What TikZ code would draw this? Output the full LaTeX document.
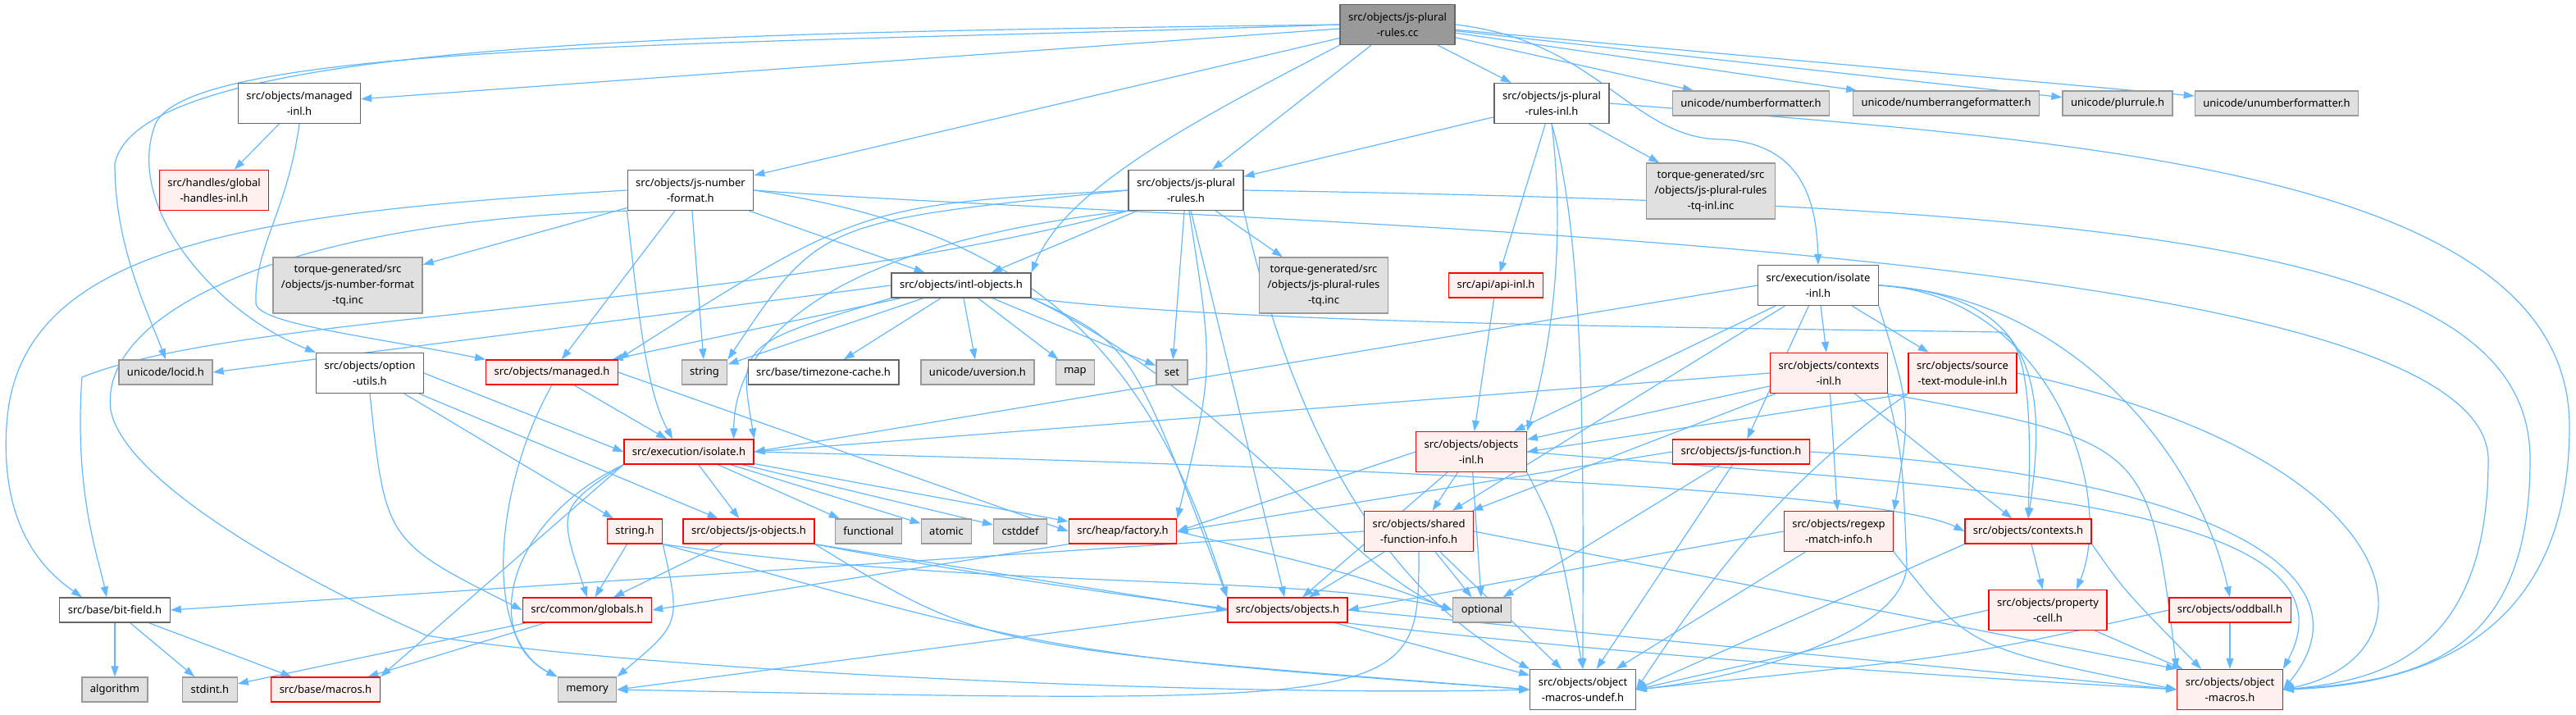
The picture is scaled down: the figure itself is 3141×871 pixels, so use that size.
\documentclass[tikz,border=0pt]{standalone}
\usepackage{fontspec}
\setmainfont{Noto Sans}
\usetikzlibrary{arrows.meta,backgrounds}
\definecolor{edgeblue}{HTML}{63B8FF}
\definecolor{hdredge}{HTML}{666666}
\definecolor{sysfill}{HTML}{E0E0E0}
\definecolor{sysedge}{HTML}{999999}
\definecolor{redfill}{HTML}{FFF0F0}
\definecolor{rededge}{HTML}{FF0000}
\definecolor{rootfill}{HTML}{999999}
\tikzset{
  filebox/.style={draw, line width=1.3pt, inner xsep=10pt, inner ysep=0pt,
    minimum height=30pt, align=center, font=\fontsize{13}{19}\selectfont},
  lines2/.style={minimum height=49pt},
  lines3/.style={minimum height=68pt},
  hdr/.style={filebox, fill=white, draw=hdredge},
  sysh/.style={filebox, fill=sysfill, draw=sysedge},
  redh/.style={filebox, fill=redfill, draw=rededge},
  rooth/.style={filebox, fill=rootfill, draw=hdredge},
  dep/.style={draw=edgeblue, line width=1.2pt, -{Triangle[length=13pt,width=9pt]}},
}
\begin{document}
\begin{tikzpicture}[x=1pt,y=-1pt]
\useasboundingbox (0,0) rectangle (3141,871);
% files
\node[rooth, lines2] (R) at (1704,30) {src/objects/js-plural\\-rules.cc};
\node[hdr, lines2] (managedinl) at (365,126) {src/objects/managed\\-inl.h};
\node[redh, lines2] (globalh) at (261,232) {src/handles/global\\-handles-inl.h};
\node[hdr, lines2] (jsnf) at (842,232) {src/objects/js-number\\-format.h};
\node[hdr, lines2] (jspri) at (1892,126) {src/objects/js-plural\\-rules-inl.h};
\node[hdr, lines2] (jspr) at (1446,232) {src/objects/js-plural\\-rules.h};
\node[sysh] (unf) at (2135,126) {unicode/numberformatter.h};
\node[sysh] (unrf) at (2373,126) {unicode/numberrangeformatter.h};
\node[sysh] (uplur) at (2582,126) {unicode/plurrule.h};
\node[sysh] (uunf) at (2776,126) {unicode/unumberformatter.h};
\node[sysh, lines3] (tqnf) at (424,348) {torque-generated/src\\/objects/js-number-format\\-tq.inc};
\node[sysh, lines3] (tqpri) at (2086,233) {torque-generated/src\\/objects/js-plural-rules\\-tq-inl.inc};
\node[sysh, lines3] (tqpr) at (1614,348) {torque-generated/src\\/objects/js-plural-rules\\-tq.inc};
\node[hdr] (intl) at (1172,348) {src/objects/intl-objects.h};
\node[redh] (apiinl) at (1824,348) {src/api/api-inl.h};
\node[hdr, lines2] (isoinl) at (2217,348) {src/execution/isolate\\-inl.h};
\node[sysh] (locid) at (202,454) {unicode/locid.h};
\node[hdr, lines2] (optutils) at (451,455) {src/objects/option\\-utils.h};
\node[redh] (managed) at (673,454) {src/objects/managed.h};
\node[sysh] (string) at (859,454) {string};
\node[hdr] (tzc) at (1004,454) {src/base/timezone-cache.h};
\node[sysh] (uver) at (1192,454) {unicode/uversion.h};
\node[sysh] (map) at (1311,454) {map};
\node[sysh] (set) at (1429,454) {set};
\node[redh, lines2] (ctxinl) at (2230,455) {src/objects/contexts\\-inl.h};
\node[redh, lines2] (stmi) at (2393,455) {src/objects/source\\-text-module-inl.h};
\node[redh] (isolate) at (840,551) {src/execution/isolate.h};
\node[redh, lines2] (objinl) at (1794,551) {src/objects/objects\\-inl.h};
\node[redh] (jsfn) at (2123,551) {src/objects/js-function.h};
\node[redh] (stringh) at (774,648) {string.h};
\node[redh] (jsobj) at (913,648) {src/objects/js-objects.h};
\node[sysh] (functional) at (1059,648) {functional};
\node[sysh] (atomic) at (1154,648) {atomic};
\node[sysh] (cstddef) at (1244,648) {cstddef};
\node[redh] (factory) at (1369,648) {src/heap/factory.h};
\node[redh, lines2] (sfi) at (1730,648) {src/objects/shared\\-function-info.h};
\node[redh, lines2] (regexp) at (2242,648) {src/objects/regexp\\-match-info.h};
\node[redh] (contexts) at (2473,648) {src/objects/contexts.h};
\node[hdr] (bitfield) at (140,744) {src/base/bit-field.h};
\node[redh] (globals) at (716,744) {src/common/globals.h};
\node[redh] (objects) at (1570,744) {src/objects/objects.h};
\node[sysh] (optional) at (1807,744) {optional};
\node[redh, lines2] (propcell) at (2497,744) {src/objects/property\\-cell.h};
\node[redh] (oddball) at (2719,744) {src/objects/oddball.h};
\node[sysh] (algorithm) at (140,841) {algorithm};
\node[sysh] (stdint) at (256,841) {stdint.h};
\node[redh] (macros) at (397,841) {src/base/macros.h};
\node[sysh] (memory) at (716,841) {memory};
\node[hdr, lines2] (oundef) at (1930,841) {src/objects/object\\-macros-undef.h};
\node[redh, lines2] (omacros) at (2719,841) {src/objects/object\\-macros.h};
% bends
\coordinate (wLoc) at (140,200);
\coordinate (wOpt) at (190,150);
\coordinate (wIso) at (2100,170);
\coordinate (wMg) at (312,370);
\coordinate (wBf) at (8,520);
\coordinate (wBf2) at (100,460);
\coordinate (wUd) at (135,500);
\coordinate (wUd2) at (520,775);
\coordinate (wCx) at (2440,405);
\coordinate (wCi) at (2325,690);
\coordinate (wNF) at (3034,560);
\coordinate (wPR) at (3085,560);
\coordinate (wPI) at (3133,520);
\begin{scope}[on background layer]
% root
\draw[dep] (R) -- (managedinl);
\draw[dep] (R) -- (jsnf);
\draw[dep] (R) -- (jspri);
\draw[dep] (R) -- (jspr);
\draw[dep] (R.south west) .. controls (1450,150) and (1300,230) .. (intl.north east);
\draw[dep] (R.west) .. controls (900,40) and (170,45) .. (wLoc) .. controls (140,300) and (180,380) .. (locid.north);
\draw[dep] (R.west) .. controls (900,55) and (240,50) .. (wOpt) .. controls (150,250) and (260,380) .. (optutils.north west);
\draw[dep] (R.east) .. controls (1950,50) and (1990,170) .. (wIso) .. controls (2200,175) and (2215,250) .. (isoinl.north);
\draw[dep] (R) -- (unf);
\draw[dep] (R) -- (unrf);
\draw[dep] (R) -- (uplur);
\draw[dep] (R) -- (uunf);
% managed-inl
\draw[dep] (managedinl) -- (globalh);
\draw[dep] (managedinl.south) .. controls (350,260) and (310,300) .. (wMg) .. controls (315,395) and (450,410) .. (managed.north west);
% js-number-format
\draw[dep] (jsnf) -- (tqnf);
\draw[dep] (jsnf) -- (intl);
\draw[dep] (jsnf) -- (string);
\draw[dep] (jsnf) -- (managed);
\draw[dep] (jsnf.west) .. controls (300,260) and (20,300) .. (wBf) .. controls (0,650) and (60,700) .. ([xshift=-40pt]bitfield.north);
\draw[dep] (jsnf.south west) .. controls (780,400) and (790,480) .. ([xshift=-20pt]isolate.north);
\draw[dep] (jsnf.east) .. controls (1250,280) and (1400,420) .. (objects.north west);
\draw[dep] (jsnf.south west) .. controls (350,270) and (120,380) .. (wUd) .. controls (150,580) and (330,690) .. (wUd2) .. controls (800,820) and (1500,850) .. (oundef.west);
\draw[dep] (jsnf.east) .. controls (1500,275) and (3030,290) .. (wNF) .. controls (3034,800) and (2900,830) .. (omacros.east);
% js-plural-rules
\draw[dep] (jspr) -- (intl);
\draw[dep] (jspr) -- (tqpr);
\draw[dep] (jspr) -- (set);
\draw[dep] (jspr) -- (objects);
\draw[dep] (jspr.west) .. controls (1000,270) .. (string.north east);
\draw[dep] (jspr.west) .. controls (1050,250) .. (managed.north east);
\draw[dep] (jspr.south west) .. controls (1000,300) and (895,420) .. ([xshift=-25pt]isolate.north east);
\draw[dep] (jspr.south west) .. controls (900,380) and (300,380) .. (wBf2) .. controls (90,600) and (120,680) .. ([xshift=-10pt]bitfield.north);
\draw[dep] (jspr) .. controls (1480,450) .. (factory.north east);
\draw[dep] (jspr.south east) .. controls (1560,450) and (1650,700) .. (oundef.north west);
\draw[dep] (jspr.east) .. controls (2600,250) and (3085,300) .. (wPR) .. controls (3085,800) and (2950,830) .. (omacros.east);
% js-plural-rules-inl
\draw[dep] (jspri) -- (jspr);
\draw[dep] (jspri) -- (tqpri);
\draw[dep] (jspri) -- (apiinl);
\draw[dep] (jspri.south) .. controls (1910,300) and (1890,430) .. (objinl.north east);
\draw[dep] (jspri.south) .. controls (1935,300) and (1930,600) .. (oundef.north);
\draw[dep] (jspri.east) .. controls (2500,170) and (3133,200) .. (wPI) .. controls (3133,780) and (2950,835) .. (omacros.east);
\draw[dep] (apiinl) -- (objinl);
% intl-objects
\draw[dep] (intl) -- (string);
\draw[dep] (intl) -- (tzc);
\draw[dep] (intl) -- (uver);
\draw[dep] (intl) -- (map);
\draw[dep] (intl) -- (set);
\draw[dep] (intl) -- (managed);
\draw[dep] (intl.west) -- (locid.east);
\draw[dep] (intl.south west) .. controls (900,420) .. (isolate.north east);
\draw[dep] (intl.south east) .. controls (1380,420) .. (objects.north west);
\draw[dep] (intl.south east) .. controls (1500,480) and (1650,700) .. (optional.west);
\draw[dep] (intl.south east) .. controls (1500,395) and (2100,400) .. (wCx) .. controls (2480,420) and (2475,550) .. (contexts.north);
% isolate-inl
\draw[dep] (isoinl.west) -- (isolate.east);
\draw[dep] (isoinl) -- (objinl);
\draw[dep] (isoinl) -- (sfi);
\draw[dep] (isoinl) -- (jsfn);
\draw[dep] (isoinl) -- (ctxinl);
\draw[dep] (isoinl) -- (stmi);
\draw[dep] (isoinl.south east) .. controls (2330,500) .. (regexp.north east);
\draw[dep] (isoinl.east) .. controls (2470,360) and (2500,450) .. (contexts.north);
\draw[dep] (isoinl.east) .. controls (2500,360) and (2580,600) .. ([xshift=35pt]propcell.north);
\draw[dep] (isoinl.east) .. controls (2520,360) and (2680,550) .. (oddball.north);
% contexts-inl, source-text-module-inl
\draw[dep] (ctxinl.west) -- (isolate.east);
\draw[dep] (ctxinl) -- (objinl);
\draw[dep] (ctxinl) -- (sfi);
\draw[dep] (ctxinl) -- (regexp);
\draw[dep] (ctxinl) -- (contexts);
\draw[dep] (ctxinl.south east) .. controls (2320,560) .. (wCi) .. controls (2320,780) and (2100,830) .. (oundef.east);
\draw[dep] (ctxinl.south east) .. controls (2620,540) .. (omacros.north west);
\draw[dep] (stmi.south west) -- (objinl.east);
\draw[dep] (stmi.south west) .. controls (2150,600) and (2050,760) .. (oundef.east);
\draw[dep] (stmi.east) .. controls (2950,560) and (2980,800) .. (omacros.east);
% isolate
\draw[dep] (isolate.south west) .. controls (680,620) .. (globals.north);
\draw[dep] (isolate.south west) .. controls (610,640) and (590,780) .. (memory.north west);
\draw[dep] (isolate.south west) -- (macros.north east);
\draw[dep] (isolate) -- (jsobj);
\draw[dep] (isolate) -- (functional);
\draw[dep] (isolate) -- (atomic);
\draw[dep] (isolate) -- (cstddef);
\draw[dep] (isolate) -- (factory);
\draw[dep] (isolate.east) .. controls (1700,570) and (2300,600) .. (contexts.west);
% option-utils, managed
\draw[dep] (optutils.east) -- (isolate.west);
\draw[dep] (optutils) -- (jsobj);
\draw[dep] (optutils) -- (stringh);
\draw[dep] (optutils.south) .. controls (470,660) .. (globals.west);
\draw[dep] (managed.south) .. controls (600,600) and (590,780) .. (memory.north west);
\draw[dep] (managed) -- (isolate);
\draw[dep] (managed.east) -- (factory.west);
% objects-inl, js-function
\draw[dep] (objinl) -- (sfi);
\draw[dep] (objinl) -- (objects);
\draw[dep] (objinl.west) -- (factory.east);
\draw[dep] (objinl) -- (optional);
\draw[dep] (objinl.south east) .. controls (1900,650) .. (oundef.north);
\draw[dep] (objinl.east) .. controls (2300,590) and (2900,600) .. (omacros.north east);
\draw[dep] (jsfn) -- (optional);
\draw[dep] (jsfn) -- (oundef);
\draw[dep] (jsfn.west) -- (factory.east);
\draw[dep] (jsfn.east) .. controls (2700,580) and (2900,700) .. (omacros.east);
% string.h, js-objects, factory
\draw[dep] (stringh) -- (globals);
\draw[dep] (stringh.south east) .. controls (830,760) .. (memory.north east);
\draw[dep] (stringh.south east) .. controls (1200,720) and (1600,700) .. (optional.west);
\draw[dep] (stringh.south east) .. controls (1300,800) .. (oundef.west);
\draw[dep] (jsobj) -- (globals);
\draw[dep] (jsobj.south east) -- (objects.west);
\draw[dep] (jsobj.south east) .. controls (1200,790) .. (oundef.west);
\draw[dep] (jsobj.south east) .. controls (1600,780) and (2300,820) .. (omacros.west);
\draw[dep] (factory.south west) -- (globals.east);
\draw[dep] (factory.east) .. controls (1650,700) .. (optional.west);
% shared-function-info, regexp, contexts
\draw[dep] (sfi.west) -- (bitfield.east);
\draw[dep] (sfi) -- (objects);
\draw[dep] (sfi) -- (optional);
\draw[dep] (sfi.south) .. controls (1730,860) .. (memory.east);
\draw[dep] (sfi) -- (oundef);
\draw[dep] (sfi.east) -- (omacros.north west);
\draw[dep] (regexp.west) -- (objects.east);
\draw[dep] (regexp) -- (oundef);
\draw[dep] (regexp.south east) .. controls (2400,790) .. (omacros.west);
\draw[dep] (contexts) -- (propcell);
\draw[dep] (contexts.south west) -- (oundef.east);
\draw[dep] (contexts.south east) .. controls (2590,720) .. ([xshift=-35pt]omacros.north);
% lower rows
\draw[dep] (objects.west) -- (memory.east);
\draw[dep] (objects) -- (oundef);
\draw[dep] (objects.east) -- (omacros.west);
\draw[dep] (propcell.west) -- (oundef.east);
\draw[dep] (propcell) -- (omacros);
\draw[dep] (oddball.west) .. controls (2400,800) .. (oundef.east);
\draw[dep] (oddball) -- (omacros);
\draw[dep] (globals) -- (stdint);
\draw[dep] (globals) -- (macros);
\draw[dep] (bitfield) -- (algorithm);
\draw[dep] (bitfield) -- (stdint);
\draw[dep] (bitfield) -- (macros);
\end{scope}
\end{tikzpicture}
\end{document}
